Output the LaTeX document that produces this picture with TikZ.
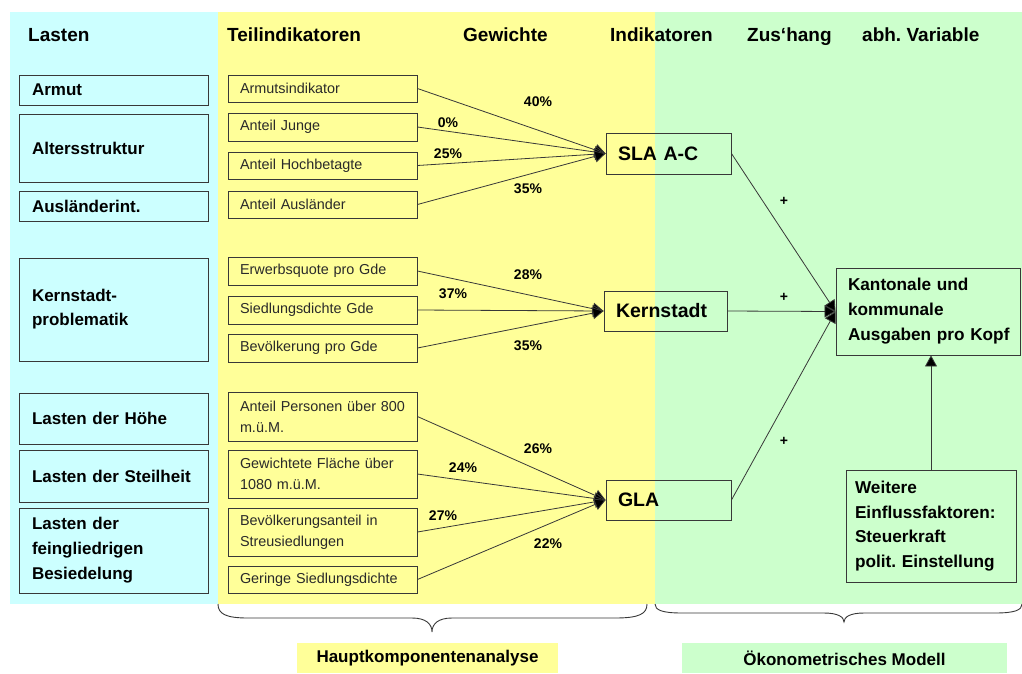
\documentclass[tikz,border=0pt]{standalone}
\usepackage{fontspec}
\setmainfont{Liberation Sans}
\usetikzlibrary{arrows.meta}
\definecolor{cy}{HTML}{CCFFFF}
\definecolor{ye}{HTML}{FFFF99}
\definecolor{gr}{HTML}{CCFFCC}
\definecolor{bd}{HTML}{383838}
\definecolor{tx}{HTML}{2A2A2A}
\frenchspacing
\begin{document}
\begin{tikzpicture}[x=1pt,y=-1pt,
  hdr/.style={anchor=base west, inner sep=0pt, font=\fontsize{19}{22}\selectfont\bfseries},
  lastbox/.style={draw=bd, line width=0.9pt, inner xsep=13pt, inner ysep=0pt, text width=163pt, align=left, font=\fontsize{17}{24}\selectfont\bfseries},
  tibox/.style={draw=bd, line width=0.9pt, fill=ye, text=tx, inner xsep=12pt, inner ysep=0pt, text width=165pt, align=left, font=\fontsize{14.4}{21}\selectfont},
  indbox/.style={draw=bd, line width=0.9pt, inner xsep=12pt, inner ysep=0pt, align=left, font=\fontsize{19.5}{22}\selectfont\bfseries},
  bigbox/.style={draw=bd, line width=0.9pt, inner ysep=0pt, align=left},
  pct/.style={inner sep=0pt, font=\fontsize{14}{16}\selectfont\bfseries},
  conn/.style={draw=bd, line width=0.8pt, -{Triangle[length=11pt,width=12pt,fill=black]}},
  brace/.style={draw=bd, line width=0.9pt},
  foot/.style={inner sep=0pt, font=\fontsize{17}{20}\selectfont\bfseries}
]
\useasboundingbox (0,0) rectangle (1022,673);
\fill[white] (0,0) rectangle (1022,673);
% backgrounds
\fill[cy] (10,12) rectangle (218,604);
\fill[ye] (218,12) rectangle (655,604);
\fill[gr] (655,12) rectangle (1022,604);

% headers
\node[hdr] (h1) at (28,41.5) {Lasten};
\node[hdr] (h2) at (227,41.5) {Teilindikatoren};
\node[hdr] (h3) at (463,41.5) {Gewichte};
\node[hdr] (h4) at (610,41.5) {Indikatoren};
\node[hdr] (h5) at (747,41.5) {Zus‘hang};
\node[hdr] (h6) at (862,41.5) {abh. Variable};

% Lasten boxes
\node[lastbox, minimum height=30pt] (armut) at (113.5,90) {Armut};
\node[lastbox, minimum height=68pt] (alter) at (113.5,148) {Altersstruktur};
\node[lastbox, minimum height=30pt] (ausl) at (113.5,206) {Ausländerint.};
\node[lastbox, minimum height=103pt] (kern) at (113.5,309.5) {Kernstadt-\\problematik};
\node[lastbox, minimum height=51pt] (hoehe) at (113.5,418.5) {Lasten der Höhe};
\node[lastbox, minimum height=52pt] (steil) at (113.5,476) {Lasten der Steilheit};
\node[lastbox, minimum height=85pt, font=\fontsize{17}{25}\selectfont\bfseries] (fein) at (113.5,550.5) {Lasten der\\feingliedrigen\\Besiedelung};

% Teilindikatoren
\node[tibox, minimum height=27pt] (t1) at (322.5,88.5) {Armutsindikator};
\node[tibox, minimum height=28pt] (t2) at (322.5,127) {Anteil Junge};
\node[tibox, minimum height=27pt] (t3) at (322.5,165.5) {Anteil Hochbetagte};
\node[tibox, minimum height=27pt] (t4) at (322.5,204.5) {Anteil Ausländer};
\node[tibox, minimum height=28pt] (t5) at (322.5,271) {Erwerbsquote pro Gde};
\node[tibox, minimum height=28pt] (t6) at (322.5,310) {Siedlungsdichte Gde};
\node[tibox, minimum height=28pt] (t7) at (322.5,348) {Bevölkerung pro Gde};
\node[tibox, minimum height=49pt] (t8) at (322.5,416.5) {Anteil~Personen~über~800\\m.ü.M.};
\node[tibox, minimum height=48pt] (t9) at (322.5,474) {Gewichtete~Fläche~über\\1080 m.ü.M.};
\node[tibox, minimum height=48pt] (t10) at (322.5,532) {Bevölkerungsanteil~in\\Streusiedlungen};
\node[tibox, minimum height=27pt] (t11) at (322.5,579.5) {Geringe Siedlungsdichte};

% Indikatoren
\node[indbox, text width=101pt, minimum height=41pt] (sla) at (668.5,153.5) {SLA A-C};
\node[indbox, text width=99pt, minimum height=40pt] (ks) at (665.5,311) {Kernstadt};
\node[indbox, text width=101pt, minimum height=40pt] (gla) at (668.5,500) {GLA};

% abh. Variable
\node[bigbox, inner xsep=12pt, text width=160pt, minimum height=87pt, font=\fontsize{17.2}{25}\selectfont\bfseries] (kant) at (928,311.5) {Kantonale~und\\kommunale\\Ausgaben~pro~Kopf};
\node[bigbox, inner xsep=9pt, text width=152pt, minimum height=112pt, font=\fontsize{17.2}{24.7}\selectfont\bfseries] (weit) at (931,526) {Weitere\\Einflussfaktoren:\\Steuerkraft\\polit.~Einstellung};

% connectors to SLA
\draw[conn] (t1.east) -- (sla.west);
\draw[conn] (t2.east) -- (sla.west);
\draw[conn] (t3.east) -- (sla.west);
\draw[conn] (t4.east) -- (sla.west);
% to Kernstadt
\draw[conn] (t5.east) -- (ks.west);
\draw[conn] (t6.east) -- (ks.west);
\draw[conn] (t7.east) -- (ks.west);
% to GLA
\draw[conn] (t8.east) -- (gla.west);
\draw[conn] (t9.east) -- (gla.west);
\draw[conn] (t10.east) -- (gla.west);
\draw[conn] (t11.east) -- (gla.west);
% to Kantonale
\draw[conn] (sla.east) -- (kant.west);
\draw[conn] (ks.east) -- (kant.west);
\draw[conn] (gla.east) -- (kant.west);
\draw[conn] (weit.north) -- (weit.north |- kant.south);

% weights
\node[pct] (p1) at (538,102) {40\%};
\node[pct] (p2) at (448,122.5) {0\%};
\node[pct] (p3) at (448,154) {25\%};
\node[pct] (p4) at (528,188.5) {35\%};
\node[pct] (p5) at (528,275) {28\%};
\node[pct] (p6) at (453,294) {37\%};
\node[pct] (p7) at (528,346) {35\%};
\node[pct] (p8) at (538,449) {26\%};
\node[pct] (p9) at (463,468) {24\%};
\node[pct] (p10) at (443,516) {27\%};
\node[pct] (p11) at (548,544) {22\%};
\node[pct] (s1) at (784,201) {+};
\node[pct] (s2) at (784,297) {+};
\node[pct] (s3) at (784,441) {+};

% braces
\draw[brace] (218,604) .. controls (218,614) and (226,618) .. (248,618) -- (412,618)
  .. controls (426,618) and (432,624) .. (432,632)
  .. controls (432,624) and (438,618) .. (452,618) -- (615,618)
  .. controls (639,618) and (647,614) .. (647,604);
\draw[brace] (655,604) .. controls (655,610) and (662,613) .. (682,613) -- (824,613)
  .. controls (838,613) and (844,617) .. (844,622)
  .. controls (844,617) and (850,613) .. (864,613) -- (995,613)
  .. controls (1015,613) and (1022,610) .. (1022,604);

% footers
\node[foot, fill=ye, minimum width=261pt, minimum height=30pt] (hka) at (427.5,658) {Hauptkomponentenanalyse};
\node[foot, fill=gr, minimum width=325pt, minimum height=30pt] (oem) at (844.5,658) {Ökonometrisches Modell};
\end{tikzpicture}
\end{document}
